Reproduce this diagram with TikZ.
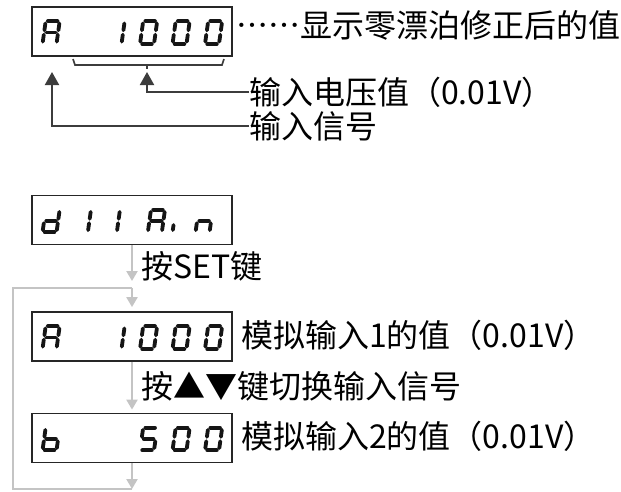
\documentclass[tikz,border=0pt]{standalone}
\usepackage{fontspec}
\setmainfont[Script=CJK]{Noto Sans CJK SC}
\usetikzlibrary{arrows.meta,positioning}
\definecolor{segBlack}{HTML}{151515}
\definecolor{flowGray}{HTML}{C4C4C4}
\definecolor{lineDark}{HTML}{3C3C3C}

% seven-segment glyphs, x1/y1/x2/y2 on a 2x3 grid (y=0 top, 1 middle, 2 bottom)
\newcommand{\glyphA}{0/0/1/0,1/0/1/1,1/1/1/2,0/1/0/2,0/0/0/1,0/1/1/1}
\newcommand{\glyphZero}{0/0/1/0,1/0/1/1,1/1/1/2,0/2/1/2,0/1/0/2,0/0/0/1}
\newcommand{\glyphOne}{1/0/1/1,1/1/1/2}
\newcommand{\glyphFive}{0/0/1/0,0/0/0/1,0/1/1/1,1/1/1/2,0/2/1/2}
\newcommand{\glyphB}{0/0/0/1,0/1/0/2,0/2/1/2,1/1/1/2,0/1/1/1}
\newcommand{\glyphD}{1/0/1/1,1/1/1/2,0/2/1/2,0/1/0/2,0/1/1/1}
\newcommand{\glyphN}{0/1/1/1,0/1/0/2,1/1/1/2}
\newcommand{\segglyph}[3]{% display node, offset from its west side, glyph
  \begin{scope}[shift={(#1.west)},xshift=#2,yshift=-1,xslant=0.14]
    \foreach \xa/\ya/\xb/\yb in #3
      {\draw[seg] ({\xa*14},{(\ya-1)*11.3}) -- ({\xb*14},{(\yb-1)*11.3});}
  \end{scope}}

\begin{document}
\begin{tikzpicture}[x=1pt,y=-1pt,
    dispbox/.style={draw=black!85,line width=1.8,minimum width=200,minimum height=49,inner sep=0},
    seg/.style={draw=segBlack,line width=3.8,line cap=round,shorten <=2.2,shorten >=2.2},
    txt/.style={anchor=west,inner sep=0,font=\fontsize{32}{35}\selectfont},
    pointer/.style={draw=lineDark,line width=2,-{Triangle[width=14,length=13]}},
    flow/.style={draw=flowGray,line width=2.2,-{Triangle[width=11,length=10]}},
    flowline/.style={draw=flowGray,line width=2.2}]
  \useasboundingbox (0,0) rectangle (621,491);

  % top display and its notes
  \node[dispbox] (dispTop) at (132,31.5) {};
  \segglyph{dispTop}{13}{\glyphA}
  \segglyph{dispTop}{78}{\glyphOne}
  \foreach \gx in {110.5,143,175.5} {\segglyph{dispTop}{\gx}{\glyphZero}}
  \node[txt] (zeroNote) at (236,25) {……显示零漂泊修正后的值};
  \draw[lineDark,line width=1.6] (73,59) -- (75,65) -- (222,65) -- (224,59);
  \draw[lineDark,line width=1.6] (147,65) -- (147,69);
  \node[txt] (voltNote) at (249,92) {输入电压值（0.01V）};
  \node[txt] (sigNote) at (249,126) {输入信号};
  \coordinate (voltTip) at (147,72);
  \coordinate (sigTip) at (52,72);
  \draw[pointer] (voltNote.west) -| (voltTip);
  \draw[pointer] (sigNote.west) -| (sigTip);

  % menu and the two inputs
  \node[dispbox] (dispMenu) at (132,220) {};
  \segglyph{dispMenu}{13}{\glyphD}
  \segglyph{dispMenu}{44.3}{\glyphOne}
  \segglyph{dispMenu}{73.3}{\glyphOne}
  \segglyph{dispMenu}{118.3}{\glyphA}
  \begin{scope}[shift={(dispMenu.west)},xshift=143,yshift=-1,xslant=0.14]
    \draw[seg,shorten <=0,shorten >=0] (0,4) -- (0,9);
  \end{scope}
  \segglyph{dispMenu}{166}{\glyphN}

  \node[dispbox] (dispInA) at (132,336.5) {};
  \segglyph{dispInA}{13}{\glyphA}
  \segglyph{dispInA}{78}{\glyphOne}
  \foreach \gx in {110.5,143,175.5} {\segglyph{dispInA}{\gx}{\glyphZero}}

  \node[dispbox] (dispInB) at (132,438) {};
  \segglyph{dispInB}{13}{\glyphB}
  \segglyph{dispInB}{110.5}{\glyphFive}
  \foreach \gx in {143,175.5} {\segglyph{dispInB}{\gx}{\glyphZero}}

  \node[txt] (setNote) at (141,266) {按SET键};
  \node[txt] (valA) at (241,335) {模拟输入1的值（0.01V）};
  \node[txt] (switchNote) at (141,386) {按▲▼键切换输入信号};
  \node[txt] (valB) at (241,436) {模拟输入2的值（0.01V）};

  \coordinate (loopJoin) at (132,288);
  \coordinate (loopEnd) at (132,489);
  \draw[flow,shorten >=7] (dispMenu.south) -- (loopJoin);
  \draw[flow,shorten >=4] (loopJoin) -- (dispInA.north);
  \draw[flow,shorten >=3] (dispInA.south) -- (dispInB.north);
  \draw[flow] (dispInB.south) -- (loopEnd);
  \draw[flowline] (loopEnd) -- ++(-119,0) |- (loopJoin);
\end{tikzpicture}
\end{document}
